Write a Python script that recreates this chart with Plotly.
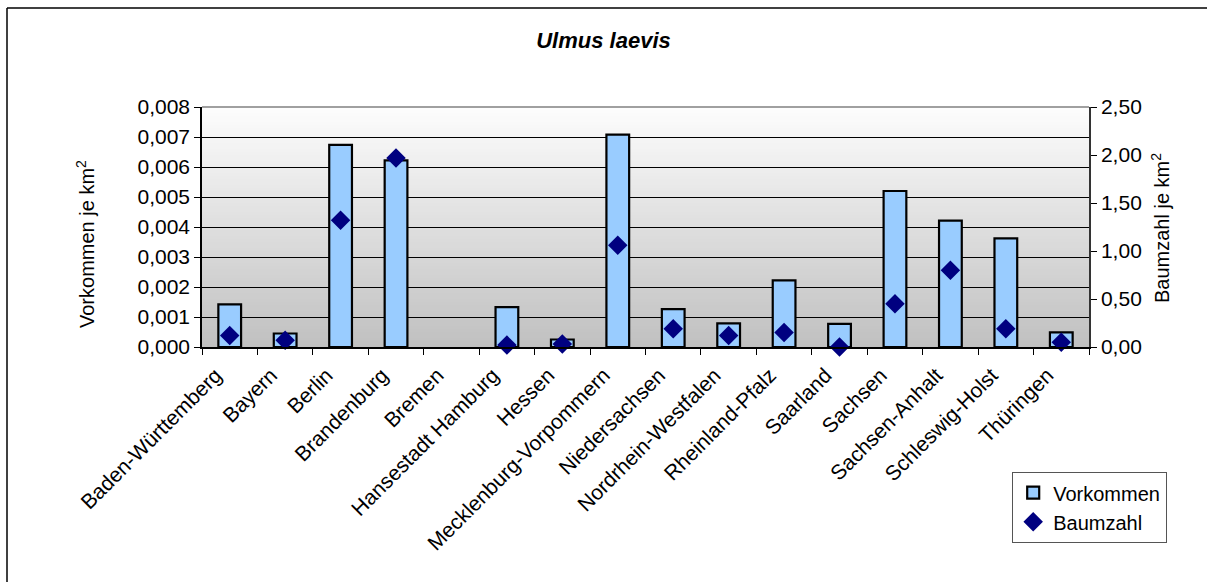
import plotly.graph_objects as go

# Bundesländer and the two measures per state
laender = [
    "Baden-Württemberg", "Bayern", "Berlin", "Brandenburg", "Bremen",
    "Hansestadt Hamburg", "Hessen", "Mecklenburg-Vorpommern", "Niedersachsen",
    "Nordrhein-Westfalen", "Rheinland-Pfalz", "Saarland", "Sachsen",
    "Sachsen-Anhalt", "Schleswig-Holst", "Thüringen",
]
vorkommen = [0.00142, 0.00045, 0.00674, 0.00622, None, 0.00133, 0.00025, 0.00708,
             0.00126, 0.00079, 0.00222, 0.00077, 0.00520, 0.00421, 0.00362, 0.00049]
baumzahl = [0.12, 0.07, 1.32, 1.97, None, 0.02, 0.03, 1.06,
            0.19, 0.12, 0.15, 0.00, 0.45, 0.80, 0.19, 0.05]

W, H = 1207, 582
L, R, T, B = 202, 118, 107, 235
PW, PH = W - L - R, H - T - B

FONT = "Liberation Sans, Arial, sans-serif"


def px_x(p):
    return (p - L) / PW


def px_y(p):
    return (H - B - p) / PH


fig = go.Figure()
fig.add_trace(go.Bar(
    x=laender, y=vorkommen, name="Vorkommen",
    marker=dict(color="#99CCFF", line=dict(color="black", width=2.2)),
    width=0.41,
))
fig.add_trace(go.Scatter(
    x=laender, y=baumzahl, name="Baumzahl", yaxis="y2", mode="markers",
    marker=dict(symbol="diamond", color="#000080", size=15),
    cliponaxis=False,
))

# vertical grey gradient behind the plot area
shapes = []
n = 80
for i in range(n):
    t = (i + 0.5) / n
    v = int(round(0xC0 + (0xFD - 0xC0) * t))
    shapes.append(dict(type="rect", xref="paper", yref="paper",
                       x0=0, x1=1, y0=i / n, y1=(i + 1) / n,
                       fillcolor=f"rgb({v},{v},{v})", line=dict(width=0),
                       layer="below"))
# plot-area frame
shapes.append(dict(type="line", xref="paper", yref="paper", x0=0, x1=1, y0=1, y1=1,
                   line=dict(color="#808080", width=1.5)))
# outer chart frame (top and left edges)
shapes.append(dict(type="line", xref="paper", yref="paper", x0=px_x(7), x1=px_x(W),
                   y0=px_y(8), y1=px_y(8), line=dict(color="black", width=1.5)))
shapes.append(dict(type="line", xref="paper", yref="paper", x0=px_x(7), x1=px_x(7),
                   y0=px_y(8), y1=px_y(H), line=dict(color="black", width=1.5)))

# axis titles
annotations = [
    dict(text="Vorkommen je km<sup>2</sup>", xref="paper", yref="paper",
         x=px_x(85), y=px_y(244), textangle=-90, showarrow=False,
         xanchor="center", yanchor="middle", font=dict(size=20)),
    dict(text="Baumzahl je km<sup>2</sup>", xref="paper", yref="paper",
         x=px_x(1160), y=px_y(228), textangle=-90, showarrow=False,
         xanchor="center", yanchor="middle", font=dict(size=20)),
]

fig.update_layout(
    width=W, height=H,
    margin=dict(l=L, r=R, t=T, b=B),
    paper_bgcolor="white", plot_bgcolor="rgba(0,0,0,0)",
    separators=",.",
    font=dict(family=FONT, size=21, color="black"),
    title=dict(text="<b><i>Ulmus laevis</i></b>", x=0.5, xref="container",
               y=1 - 40 / H, yref="container", yanchor="middle",
               font=dict(size=22)),
    bargap=0.59,
    showlegend=True,
    legend=dict(x=px_x(1012), y=px_y(472), xanchor="left", yanchor="top",
                bgcolor="white", bordercolor="#555555", borderwidth=1.2,
                font=dict(size=20), tracegroupgap=0, itemwidth=30),
    shapes=shapes,
    annotations=annotations,
    xaxis=dict(
        type="category", tickangle=-45, tickson="boundaries",
        ticks="outside", ticklen=6, tickcolor="black",
        showline=True, linecolor="black", linewidth=1.5,
        showgrid=False, tickfont=dict(size=21),
        ticklabelshift=-14, ticklabelstandoff=6,
        range=[-0.5, len(laender) - 0.5],
    ),
    yaxis=dict(
        range=[0, 0.008], dtick=0.001, tickformat=".3f",
        ticks="outside", ticklen=6, tickcolor="black",
        showline=True, linecolor="black", linewidth=1.5,
        showgrid=True, gridcolor="black", gridwidth=1.2,
        zeroline=False, tickfont=dict(size=21),
    ),
    yaxis2=dict(
        range=[0, 2.5], dtick=0.5, tickformat=".2f", overlaying="y", side="right",
        ticks="outside", ticklen=6, tickcolor="black",
        showline=True, linecolor="#333333", linewidth=1.5,
        showgrid=False, zeroline=False, tickfont=dict(size=21),
    ),
)

fig.write_html("out.html")
